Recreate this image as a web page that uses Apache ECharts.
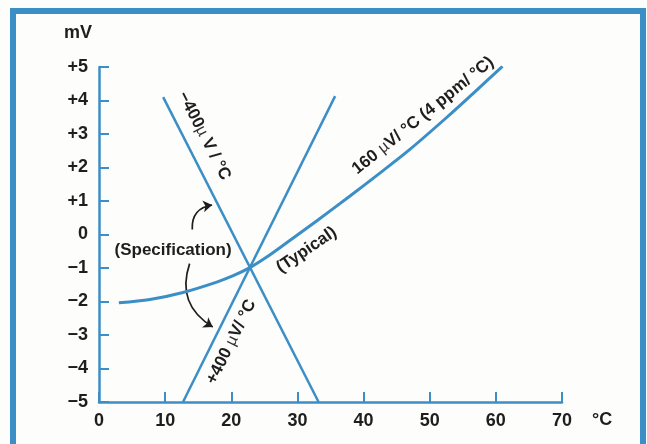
<!DOCTYPE html>
<html>
<head>
<meta charset="utf-8">
<script src="https://cdn.jsdelivr.net/npm/echarts@6/dist/echarts.min.js"></script>
<style>
html,body{margin:0;padding:0;background:#fdfdfb;}
#c{width:647px;height:444px;}
</style>
</head>
<body>
<div id="c"></div>
<script>
// ---- data ----
const xTicks = [0, 10, 20, 30, 40, 50, 60, 70];
const yTickValues = [-5, -4, -3, -2, -1, 0, 1, 2, 3, 4, 5];
const yTickLabels = ['\u22125', '\u22124', '\u22123', '\u22122', '\u22121', '0', '+1', '+2', '+3', '+4', '+5'];
const lineMinus400 = [[9.7, 4.1], [33.2, -5]];
const linePlus400 = [[12.7, -5], [35.7, 4.13]];
const typicalCurve = [[3, -2.04], [7.7, -1.94], [12.7, -1.73], [17.8, -1.42], [20.3, -1.23],
  [22.8, -0.99], [25.3, -0.68], [27.8, -0.33], [33, 0.42], [37.9, 1.14], [42.9, 1.9],
  [47, 2.54], [52.6, 3.5], [56.5, 4.2], [61, 5.02]];
const arrowUp = [[14.1, 0.15], [17.1, 0.88]];
const arrowDown = [[13.7, -0.87], [17.2, -2.76]];
const annotations = [
  {name: 'minus400', pos: [15.9, 2.94], rotate: -62.8},
  {name: 'plus400', pos: [20.0, -3.21], rotate: 63.6},
  {name: 'slope160', pos: [49.0, 3.55], rotate: 39},
  {name: 'typical', pos: [31.4, -0.46], rotate: 34},
  {name: 'spec', pos: [11.2, -0.46], rotate: 0}
];
const annotationText = {
  minus400: '{b|\u2212400}{m|\u00b5}{b| V / °C}',
  plus400: '{b|+400 }{m|\u00b5}{b|V/ °C}',
  slope160: '{b|160 }{m|\u00b5}{b|V/ °C (4 ppm/ °C)}',
  typical: '{b|(Typical)}',
  spec: '{b|(Specification)}'
};

const BLUE = '#3b8ec6';
const INK = '#1e1e1e';
const FONT = '"Liberation Sans", Arial, sans-serif';

const chart = echarts.init(document.getElementById('c'));
const option = {
  backgroundColor: '#fdfdfb',
  animation: false,
  grid: {left: 99, right: 85, top: 67, bottom: 42},
  graphic: [
    {type: 'rect', shape: {x: 13, y: 11, width: 630, height: 460},
     style: {fill: 'none', stroke: BLUE, lineWidth: 6}, z: 100},
    {type: 'text', left: 64, top: 24,
     style: {text: 'mV', font: 'bold 18px ' + FONT, fill: INK}},
    {type: 'text', left: 592, top: 411,
     style: {text: '°C', font: 'bold 18px ' + FONT, fill: INK}}
  ],
  xAxis: {
    type: 'value', min: 0, max: 70, interval: 10,
    axisLine: {show: true, onZero: false, lineStyle: {color: BLUE, width: 2.5}},
    axisTick: {show: true, inside: true, length: 10, lineStyle: {color: BLUE, width: 2}},
    splitLine: {show: false},
    axisLabel: {color: INK, fontSize: 18, fontWeight: 'bold', fontFamily: FONT, margin: 10,
      formatter: v => xTicks.indexOf(v) >= 0 ? String(v) : ''}
  },
  yAxis: {
    type: 'value', min: -5, max: 5, interval: 1,
    axisLine: {show: true, onZero: false, lineStyle: {color: BLUE, width: 2.5}},
    axisTick: {show: true, inside: true, length: 10, lineStyle: {color: BLUE, width: 2}},
    splitLine: {show: false},
    axisLabel: {color: INK, fontSize: 18, fontWeight: 'bold', fontFamily: FONT, margin: 11,
      formatter: v => { const i = yTickValues.indexOf(v); return i >= 0 ? yTickLabels[i] : ''; }}
  },
  series: [
    {type: 'line', data: lineMinus400, symbol: 'none', lineStyle: {color: BLUE, width: 2.5}},
    {type: 'line', data: linePlus400, symbol: 'none', lineStyle: {color: BLUE, width: 2.5}},
    {type: 'line', data: typicalCurve, smooth: 0.3, symbol: 'none', lineStyle: {color: BLUE, width: 3}},
    {type: 'lines', coordinateSystem: 'cartesian2d', polyline: false,
     symbol: ['none', 'arrow'], symbolSize: 9,
     lineStyle: {color: INK, width: 1.7, opacity: 1},
     data: [
       {coords: arrowUp, lineStyle: {curveness: 0.45}},
       {coords: arrowDown, lineStyle: {curveness: -0.4}}
     ]},
    {type: 'scatter', symbolSize: 0, z: 10, itemStyle: {opacity: 1},
     data: annotations.map(a => ({
       value: a.pos,
       label: {show: true, position: 'inside', rotate: a.rotate, opacity: 1, formatter: annotationText[a.name],
         rich: {
           b: {fontSize: 17, fontWeight: 'bold', fontFamily: FONT, color: INK},
           m: {fontSize: 16, fontWeight: 'normal', fontFamily: FONT, color: '#333'}
         }}
     }))}
  ]
};
chart.setOption(option);
</script>
</body>
</html>
